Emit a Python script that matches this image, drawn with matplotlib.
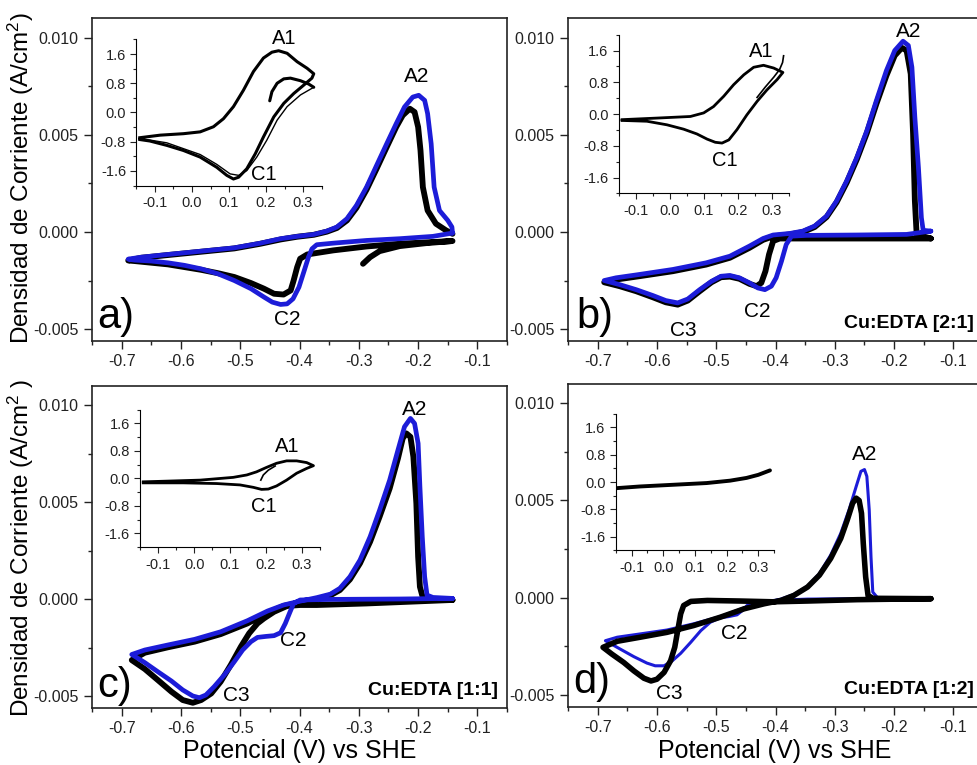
import matplotlib
matplotlib.use('Agg')
import matplotlib.pyplot as plt
from matplotlib.ticker import MultipleLocator, FuncFormatter

plt.rcParams['font.family'] = ['Liberation Sans', 'DejaVu Sans']
plt.rcParams['mathtext.default'] = 'regular'

BLUE = '#1c1cd8'

# ---- data: potential E (V vs SHE), current density j (mA/cm2) ----
# panel a) main
a_blk_E = [-0.293, -0.281, -0.265, -0.231, -0.187, -0.142, -0.231, -0.287, -0.343, -0.387, -0.399, -0.404,
           -0.41, -0.415, -0.427, -0.443, -0.46, -0.482, -0.51, -0.538, -0.566, -0.622, -0.678, -0.689,
           -0.667, -0.622, -0.566, -0.51, -0.466, -0.432, -0.404, -0.376, -0.354, -0.337, -0.32, -0.304,
           -0.287, -0.27, -0.253, -0.237, -0.226, -0.214, -0.206, -0.2, -0.196, -0.192, -0.184, -0.17,
           -0.153, -0.142]
a_blk_j = [-1.63, -1.29, -0.98, -0.72, -0.57, -0.46, -0.60, -0.74, -0.94, -1.15, -1.37, -1.80,
           -2.49, -3.00, -3.21, -3.17, -2.91, -2.62, -2.31, -2.11, -1.94, -1.66, -1.49, -1.46,
           -1.32, -1.18, -1.01, -0.84, -0.60, -0.38, -0.24, -0.14, 0.02, 0.21, 0.60, 1.25,
           2.18, 3.26, 4.37, 5.40, 6.00, 6.34, 6.17, 5.40, 4.20, 2.31, 1.11, 0.43,
           0.09, -0.09]
a_blu_E = [-0.142, -0.175, -0.231, -0.287, -0.343, -0.371, -0.379, -0.385, -0.392, -0.401, -0.411, -0.421,
           -0.432, -0.446, -0.46, -0.482, -0.51, -0.538, -0.566, -0.594, -0.622, -0.65, -0.678, -0.689,
           -0.667, -0.622, -0.566, -0.51, -0.466, -0.432, -0.404, -0.376, -0.354, -0.337, -0.32, -0.304,
           -0.287, -0.27, -0.253, -0.237, -0.223, -0.209, -0.199, -0.189, -0.184, -0.178, -0.173, -0.164,
           -0.15, -0.143, -0.142]
a_blu_j = [-0.05, -0.22, -0.34, -0.43, -0.57, -0.65, -0.86, -1.29, -1.97, -2.83, -3.43, -3.69,
           -3.72, -3.60, -3.34, -2.91, -2.49, -2.14, -1.89, -1.71, -1.58, -1.49, -1.44, -1.39,
           -1.29, -1.15, -0.98, -0.81, -0.57, -0.34, -0.22, -0.12, 0.05, 0.26, 0.69, 1.37,
           2.31, 3.43, 4.54, 5.57, 6.43, 6.94, 7.03, 6.77, 6.09, 4.54, 2.31, 1.11,
           0.60, 0.26, -0.05]
# panel a) inset
ia_loop_E = [-0.141, -0.086, -0.023, 0.022, 0.058, 0.085, 0.112, 0.139, 0.166, 0.193, 0.216, 0.234,
             0.257, 0.284, 0.311, 0.329, 0.324, 0.302, 0.275, 0.248, 0.221, 0.193, 0.171, 0.148,
             0.126, 0.112, 0.094, 0.067, 0.022, -0.023, -0.068, -0.114, -0.141]
ia_loop_j = [-0.69, -0.62, -0.58, -0.53, -0.39, -0.17, 0.16, 0.61, 1.12, 1.49, 1.65, 1.69,
             1.62, 1.39, 1.21, 1.06, 0.94, 0.75, 0.52, 0.25, -0.12, -0.67, -1.13, -1.54,
             -1.77, -1.82, -1.72, -1.50, -1.22, -1.04, -0.90, -0.78, -0.74]
ia_hook_E = [0.21, 0.216, 0.23, 0.248, 0.266, 0.293, 0.315, 0.329]
ia_hook_j = [0.32, 0.57, 0.80, 0.92, 0.94, 0.87, 0.78, 0.69]
ia_thin_E = [0.329, 0.293, 0.257, 0.23, 0.202, 0.175, 0.148, 0.126, 0.103, 0.067, 0.022, -0.068, -0.141]
ia_thin_j = [0.69, 0.48, 0.16, -0.21, -0.76, -1.22, -1.59, -1.72, -1.68, -1.42, -1.15, -0.83, -0.71]

# panel b) main
b_blk_E = [-0.138, -0.263, -0.348, -0.393, -0.404, -0.411, -0.417, -0.424, -0.432, -0.444, -0.461, -0.477,
           -0.492, -0.508, -0.528, -0.548, -0.565, -0.585, -0.607, -0.635, -0.663, -0.689,
           -0.669, -0.63, -0.573, -0.517, -0.477, -0.444, -0.421, -0.404, -0.376, -0.354, -0.334, -0.314,
           -0.297, -0.28, -0.263, -0.246, -0.23, -0.213, -0.199, -0.187, -0.179, -0.172, -0.168, -0.165,
           -0.162, -0.138]
b_blk_j = [-0.33, -0.33, -0.33, -0.33, -0.46, -1.15, -2.01, -2.61, -2.78, -2.66, -2.40, -2.29,
           -2.32, -2.58, -3.04, -3.52, -3.73, -3.61, -3.35, -3.04, -2.78, -2.58,
           -2.44, -2.27, -2.01, -1.67, -1.32, -0.81, -0.40, -0.22, -0.12, 0.00, 0.26, 0.77,
           1.53, 2.54, 3.73, 5.09, 6.58, 8.04, 9.07, 9.47, 9.33, 8.13, 5.03, 1.60,
           -0.12, -0.33]
b_blu_E = [-0.138, -0.179, -0.263, -0.348, -0.373, -0.382, -0.39, -0.399, -0.407, -0.418, -0.43, -0.444,
           -0.461, -0.477, -0.492, -0.508, -0.528, -0.548, -0.565, -0.585, -0.607, -0.635, -0.663, -0.689,
           -0.669, -0.63, -0.573, -0.517, -0.477, -0.444, -0.421, -0.404, -0.376, -0.354, -0.334, -0.314,
           -0.297, -0.28, -0.263, -0.246, -0.23, -0.213, -0.199, -0.185, -0.176, -0.17, -0.165, -0.159,
           -0.154, -0.151, -0.138]
b_blu_j = [0.05, -0.12, -0.15, -0.17, -0.21, -0.64, -1.50, -2.35, -2.78, -2.96, -2.87, -2.61,
           -2.35, -2.23, -2.27, -2.53, -2.96, -3.44, -3.64, -3.52, -3.26, -2.96, -2.70, -2.49,
           -2.35, -2.18, -1.92, -1.58, -1.24, -0.72, -0.33, -0.15, -0.07, 0.05, 0.31, 0.82,
           1.60, 2.63, 3.83, 5.21, 6.75, 8.30, 9.33, 9.81, 9.59, 8.47, 5.89, 3.32,
           0.74, 0.09, 0.05]
# panel b) inset
ib_loop_E = [-0.141, -0.038, 0.06, 0.099, 0.128, 0.158, 0.187, 0.217, 0.246, 0.275, 0.305, 0.332,
             0.315, 0.285, 0.256, 0.226, 0.197, 0.173, 0.153, 0.133, 0.109, 0.079, 0.04, -0.009,
             -0.068, -0.141]
ib_loop_j = [-0.14, -0.10, -0.06, 0.03, 0.19, 0.45, 0.74, 0.99, 1.18, 1.23, 1.16, 1.05,
             0.87, 0.61, 0.32, -0.02, -0.39, -0.65, -0.73, -0.71, -0.63, -0.50, -0.38, -0.27,
             -0.18, -0.16]
ib_hook_E = [0.334, 0.331, 0.322, 0.305, 0.28, 0.256]
ib_hook_j = [1.47, 1.30, 1.12, 0.93, 0.68, 0.42]

# panel c) main
c_blk_E = [-0.142, -0.287, -0.371, -0.399, -0.421, -0.443, -0.46, -0.471, -0.485, -0.499, -0.516, -0.533,
           -0.549, -0.566, -0.58, -0.597, -0.616, -0.639, -0.661, -0.683,
           -0.661, -0.622, -0.577, -0.533, -0.488, -0.454, -0.427, -0.399, -0.371, -0.348, -0.332, -0.315,
           -0.298, -0.281, -0.265, -0.248, -0.234, -0.226, -0.22, -0.213, -0.208, -0.203, -0.2, -0.197,
           -0.191, -0.142]
c_blk_j = [-0.03, -0.21, -0.29, -0.29, -0.34, -0.64, -0.98, -1.24, -1.75, -2.44, -3.38, -4.24,
           -4.85, -5.19, -5.33, -5.19, -4.76, -4.16, -3.59, -3.13,
           -2.75, -2.47, -2.18, -1.79, -1.24, -0.69, -0.34, -0.15, 0.00, 0.21, 0.48, 1.03,
           1.86, 2.97, 4.26, 5.72, 7.27, 8.30, 8.56, 8.38, 7.35, 4.95, 2.20, 0.65,
           -0.03, -0.03]
c_blu_E = [-0.142, -0.231, -0.343, -0.399, -0.41, -0.416, -0.424, -0.432, -0.443, -0.457, -0.471, -0.482,
           -0.496, -0.51, -0.527, -0.544, -0.558, -0.569, -0.58, -0.597, -0.616, -0.639, -0.661, -0.683,
           -0.661, -0.622, -0.577, -0.533, -0.488, -0.454, -0.427, -0.399, -0.371, -0.348, -0.332, -0.315,
           -0.298, -0.281, -0.265, -0.248, -0.234, -0.223, -0.213, -0.206, -0.2, -0.197, -0.193, -0.189,
           -0.185, -0.175, -0.142]
c_blu_j = [0.05, 0.02, 0.00, -0.03, -0.21, -0.64, -1.24, -1.72, -1.87, -1.91, -1.96, -2.18,
           -2.61, -3.21, -3.90, -4.50, -4.93, -5.07, -4.98, -4.67, -4.21, -3.73, -3.26, -2.84,
           -2.61, -2.35, -2.06, -1.67, -1.10, -0.60, -0.29, -0.09, 0.09, 0.27, 0.57, 1.17,
           2.03, 3.23, 4.60, 6.15, 7.70, 8.90, 9.33, 9.07, 8.04, 5.81, 3.23, 1.17,
           0.22, 0.10, 0.05]
# panel c) inset
ic_loop_E = [-0.142, -0.077, 0.017, 0.109, 0.147, 0.174, 0.202, 0.23, 0.258, 0.286, 0.314, 0.333,
             0.314, 0.286, 0.258, 0.23, 0.207, 0.188, 0.165, 0.128, 0.063, -0.03, -0.142]
ic_loop_j = [-0.10, -0.08, -0.05, 0.03, 0.10, 0.19, 0.32, 0.44, 0.51, 0.51, 0.46, 0.37,
             0.29, 0.15, -0.05, -0.22, -0.31, -0.32, -0.26, -0.19, -0.15, -0.13, -0.13]
ic_hook_E = [0.186, 0.193, 0.207, 0.226]
ic_hook_j = [-0.05, 0.10, 0.24, 0.36]

# panel d) main
d_blk_E = [-0.138, -0.262, -0.346, -0.403, -0.459, -0.515, -0.543, -0.555, -0.56, -0.565, -0.57, -0.577,
           -0.588, -0.6, -0.61, -0.622, -0.639, -0.656, -0.676, -0.691,
           -0.667, -0.628, -0.583, -0.538, -0.493, -0.453, -0.419, -0.391, -0.369, -0.346, -0.326, -0.307,
           -0.29, -0.279, -0.27, -0.264, -0.259, -0.255, -0.252, -0.248, -0.244, -0.236, -0.138]
d_blk_j = [-0.05, -0.10, -0.17, -0.21, -0.17, -0.14, -0.19, -0.40, -0.83, -1.69, -2.55, -3.24,
           -3.84, -4.19, -4.28, -4.14, -3.76, -3.33, -2.90, -2.55,
           -2.24, -2.03, -1.78, -1.43, -1.00, -0.57, -0.31, -0.14, 0.12, 0.55, 1.16, 2.02,
           3.05, 4.00, 4.86, 5.12, 5.00, 4.34, 2.79, 1.07, 0.12, -0.03, -0.05]
d_blu_E = [-0.138, -0.262, -0.346, -0.403, -0.436, -0.448, -0.456, -0.465, -0.479, -0.493, -0.51, -0.526,
           -0.543, -0.56, -0.574, -0.588, -0.603, -0.617, -0.639, -0.662, -0.687,
           -0.667, -0.628, -0.583, -0.538, -0.493, -0.453, -0.419, -0.391, -0.369, -0.346, -0.326, -0.307,
           -0.29, -0.276, -0.264, -0.256, -0.25, -0.246, -0.242, -0.239, -0.236, -0.228, -0.138]
d_blu_j = [-0.02, -0.05, -0.07, -0.14, -0.22, -0.40, -0.66, -0.88, -0.97, -1.03, -1.26, -1.69,
           -2.29, -2.86, -3.24, -3.50, -3.50, -3.36, -3.03, -2.64, -2.21,
           -2.03, -1.86, -1.66, -1.34, -0.97, -0.52, -0.28, -0.07, 0.17, 0.59, 1.24, 2.19,
           3.31, 4.52, 5.72, 6.50, 6.59, 6.24, 4.52, 2.10, 0.29, 0.00, -0.02]
# panel d) inset
id_E = [-0.149, -0.074, 0.032, 0.137, 0.211, 0.263, 0.30, 0.337]
id_j = [-0.18, -0.13, -0.08, -0.03, 0.04, 0.12, 0.21, 0.34]

# peak labels: (text, E, j)
a_peaks = [('A2', -0.202, 8.0), ('C2', -0.421, -4.51)]
a_ipeaks = [('A1', 0.249, 2.02), ('C1', 0.195, -1.70)]
b_peaks = [('A2', -0.176, 10.33), ('C2', -0.431, -4.07), ('C3', -0.555, -5.07)]
b_ipeaks = [('A1', 0.268, 1.58), ('C1', 0.161, -1.17)]
c_peaks = [('A2', -0.206, 9.79), ('C2', -0.41, -2.1), ('C3', -0.507, -4.98)]
c_ipeaks = [('A1', 0.26, 0.94), ('C1', 0.195, -0.83)]
d_peaks = [('A2', -0.249, 7.36), ('C2', -0.47, -1.86), ('C3', -0.579, -4.93)]

panel_tags = ['a)', 'b)', 'c)', 'd)']
ratios = [None, 'Cu:EDTA [2:1]', 'Cu:EDTA [1:1]', 'Cu:EDTA [1:2]']


def fmt(nd):
    return FuncFormatter(lambda v, p: ('%.' + str(nd) + 'f') % (round(v, nd + 1) + 0.0))


def style_main(ax):
    ax.set_xlim(-0.75, -0.05)
    ax.set_ylim(-0.0056, 0.011)
    ax.xaxis.set_major_locator(MultipleLocator(0.1))
    ax.xaxis.set_minor_locator(MultipleLocator(0.05))
    ax.yaxis.set_major_locator(MultipleLocator(0.005))
    ax.yaxis.set_minor_locator(MultipleLocator(0.0025))
    ax.xaxis.set_major_formatter(fmt(1))
    ax.yaxis.set_major_formatter(fmt(3))
    ax.tick_params(which='both', direction='out', width=1, colors='#222222', labelsize=11.5)
    ax.tick_params(which='major', length=6)
    ax.tick_params(which='minor', length=3)
    for s in ax.spines.values():
        s.set_linewidth(1.2)
        s.set_color('#222222')


def style_inset(ax):
    ax.set_xlim(-0.15, 0.35)
    ax.set_ylim(-2, 2)
    ax.xaxis.set_major_locator(MultipleLocator(0.1))
    ax.xaxis.set_minor_locator(MultipleLocator(0.05))
    ax.yaxis.set_major_locator(MultipleLocator(0.8))
    ax.yaxis.set_minor_locator(MultipleLocator(0.4))
    ax.xaxis.set_major_formatter(fmt(1))
    ax.yaxis.set_major_formatter(fmt(1))
    ax.tick_params(which='both', direction='out', width=0.8, colors='#222222', labelsize=10.5)
    ax.tick_params(which='major', length=4)
    ax.tick_params(which='minor', length=2)
    ax.spines['top'].set_visible(False)
    ax.spines['right'].set_visible(False)
    ax.patch.set_alpha(0)


def mA(j):
    return [v / 1000 for v in j]


fig = plt.figure(figsize=(9.77, 7.65), dpi=100)

main_pos = [[0.0942, 0.5542, 0.4248, 0.4222],
            [0.5814, 0.5542, 0.4248, 0.4222],
            [0.0942, 0.0745, 0.4248, 0.4209],
            [0.5814, 0.0763, 0.4248, 0.4220]]
inset_pos = [[0.1397, 0.7574, 0.1894, 0.1911],
             [0.6336, 0.7471, 0.1740, 0.2075],
             [0.1437, 0.2848, 0.1834, 0.1797],
             [0.6303, 0.2805, 0.1620, 0.1788]]

axs = [fig.add_axes(p) for p in main_pos]
ins = [fig.add_axes(p) for p in inset_pos]

# main curves
axs[0].plot(a_blk_E, mA(a_blk_j), color='k', lw=4.2, solid_joinstyle='round', solid_capstyle='round')
axs[0].plot(a_blu_E, mA(a_blu_j), color=BLUE, lw=3.4, solid_joinstyle='round', solid_capstyle='round')
axs[1].plot(b_blk_E, mA(b_blk_j), color='k', lw=4.2, solid_joinstyle='round', solid_capstyle='round')
axs[1].plot(b_blu_E, mA(b_blu_j), color=BLUE, lw=3.4, solid_joinstyle='round', solid_capstyle='round')
axs[2].plot(c_blk_E, mA(c_blk_j), color='k', lw=4.2, solid_joinstyle='round', solid_capstyle='round')
axs[2].plot(c_blu_E, mA(c_blu_j), color=BLUE, lw=3.4, solid_joinstyle='round', solid_capstyle='round')
axs[3].plot(d_blu_E, mA(d_blu_j), color=BLUE, lw=2.2, solid_joinstyle='round', solid_capstyle='round')
axs[3].plot(d_blk_E, mA(d_blk_j), color='k', lw=4.0, solid_joinstyle='round', solid_capstyle='round')

# inset curves
ins[0].plot(ia_loop_E, ia_loop_j, color='k', lw=2.2, solid_joinstyle='round')
ins[0].plot(ia_hook_E, ia_hook_j, color='k', lw=2.2, solid_capstyle='round')
ins[0].plot(ia_thin_E, ia_thin_j, color='k', lw=1.0)
ins[1].plot(ib_loop_E, ib_loop_j, color='k', lw=2.0, solid_joinstyle='round')
ins[1].plot(ib_hook_E, ib_hook_j, color='k', lw=1.2)
ins[2].plot(ic_loop_E, ic_loop_j, color='k', lw=2.0, solid_joinstyle='round')
ins[2].plot(ic_hook_E, ic_hook_j, color='k', lw=1.2)
ins[3].plot(id_E, id_j, color='k', lw=2.8, solid_capstyle='round')

for ax in axs:
    style_main(ax)
for ax in ins:
    style_inset(ax)

for ax, peaks in zip(axs, [a_peaks, b_peaks, c_peaks, d_peaks]):
    for t, e, j in peaks:
        ax.text(e, j / 1000, t, ha='center', va='center', fontsize=15)
for ax, peaks in zip(ins[:3], [a_ipeaks, b_ipeaks, c_ipeaks]):
    for t, e, j in peaks:
        ax.text(e, j, t, ha='center', va='center', fontsize=14.5, clip_on=False)

tag_xy = [(0.012, 0.04), (0.019, 0.04), (0.012, 0.034), (0.012, 0.043)]
for ax, tag, (tx, ty) in zip(axs, panel_tags, tag_xy):
    ax.text(tx, ty, tag, transform=ax.transAxes, fontsize=30, ha='left', va='baseline')
for ax, r in zip(axs, ratios):
    if r:
        ax.text(0.978, 0.04, r, transform=ax.transAxes, fontsize=14, fontweight='bold',
                ha='right', va='baseline')

fig.text(21 / 977, 1 - 178 / 765, 'Densidad de Corriente (A/cm$^2$)', rotation=90,
         ha='center', va='center', fontsize=17.5)
fig.text(21 / 977, 1 - 548 / 765, 'Densidad de Corriente (A/cm$^2$ )', rotation=90,
         ha='center', va='center', fontsize=17.5)
fig.text(300 / 977, 7 / 765, 'Potencial (V) vs SHE', ha='center', va='baseline', fontsize=18)
fig.text(775 / 977, 7 / 765, 'Potencial (V) vs SHE', ha='center', va='baseline', fontsize=18)

fig.savefig('out.png', dpi=100)
